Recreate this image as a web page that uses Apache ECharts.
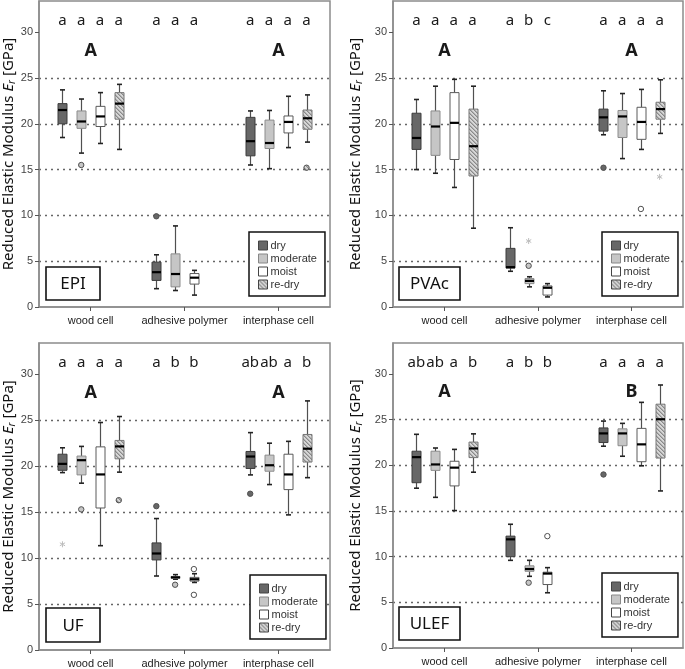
<!DOCTYPE html>
<html><head><meta charset="utf-8">
<script src="https://cdn.jsdelivr.net/npm/echarts@6/dist/echarts.min.js"></script>
<style>html,body{margin:0;padding:0;background:#fff}#c{width:685px;height:669px}</style>
</head><body><div id="c"></div>
<script>
const groups = ['wood cell', 'adhesive polymer', 'interphase cell'];
const conditions = ['dry', 'moderate', 'moist', 're-dry'];
const panelNames = ['EPI', 'PVAc', 'UF', 'ULEF'];
const yTicks = [0, 5, 10, 15, 20, 25, 30];

// box data: [group, min, Q1, median, Q3, max]
const epiDry = [[0,18.5,20.0,21.5,22.2,23.7],[1,2.0,2.9,3.8,4.9,5.7],[2,15.5,16.5,18.1,20.7,21.4]];
const epiModerate = [[0,16.8,19.5,20.25,21.4,22.7],[1,1.8,2.2,3.6,5.8,8.85],[2,15.1,17.3,17.9,20.4,21.45]];
const epiMoist = [[0,17.85,19.7,20.8,21.9,23.4],[1,1.3,2.5,3.2,3.65,4.0],[2,17.4,19.0,20.2,20.85,23.0]];
const epiRedry = [[0,17.2,20.5,22.2,23.4,24.3],[2,18.0,19.4,20.6,21.5,23.15]];

const pvacDry = [[0,15.0,17.2,18.45,21.15,22.65],[1,3.9,4.25,4.35,6.4,8.65],[2,18.8,19.2,20.7,21.6,23.6]];
const pvacModerate = [[0,14.6,16.55,19.7,21.4,24.1],[1,2.2,2.55,2.85,3.1,3.3],[2,16.2,18.5,20.8,21.45,23.3]];
const pvacMoist = [[0,13.05,16.1,20.1,23.4,24.85],[1,1.1,1.3,2.1,2.3,2.55],[2,17.2,18.3,20.2,21.8,23.75]];
const pvacRedry = [[0,8.6,14.3,17.55,21.6,24.1],[2,18.95,20.5,21.6,22.35,24.8]];

const ufDry = [[0,19.3,19.55,20.25,21.3,22.0],[1,8.05,9.8,10.5,11.65,14.3],[2,19.05,19.75,21.05,21.6,23.65]];
const ufModerate = [[0,18.15,19.05,20.65,21.1,22.15],[1,7.7,7.8,7.9,8.0,8.2],[2,18.0,19.45,20.1,21.2,22.5]];
const ufMoist = [[0,11.35,15.45,19.1,22.1,24.75],[1,7.35,7.5,7.7,7.9,8.3],[2,14.7,17.45,19.1,21.3,22.7]];
const ufRedry = [[0,19.35,20.8,22.15,22.8,25.4],[2,18.75,20.45,21.9,23.45,27.1]];

const ulefDry = [[0,17.5,18.1,20.9,21.55,23.4],[1,9.6,10.0,11.9,12.25,13.55],[2,22.1,22.5,23.5,24.1,24.85]];
const ulefModerate = [[0,16.5,19.45,20.1,21.55,21.9],[1,7.85,8.4,8.65,9.0,9.6],[2,21.0,22.15,23.5,24.0,24.6]];
const ulefMoist = [[0,15.05,17.75,19.75,20.45,21.75],[1,6.05,6.95,8.15,8.3,8.8],[2,19.95,20.4,22.3,24.05,26.9]];
const ulefRedry = [[0,19.25,20.85,21.85,22.55,23.45],[2,17.2,20.8,25.05,26.7,28.8]];

// outliers: [condition, group, value]; kinds: 'o' circle, '*' extreme
const epiOutliers = [[1,0,15.5],[0,1,9.9],[3,2,15.2]];
const epiOutlierKinds = ['o','o','o'];
const pvacOutliers = [[1,1,7.2],[1,1,4.5],[0,2,15.2],[2,2,10.7],[3,2,14.2]];
const pvacOutlierKinds = ['*','o','o','o','*'];
const ufOutliers = [[0,0,11.5],[1,0,15.3],[3,0,16.3],[0,1,15.65],[1,1,7.1],[2,1,8.8],[2,1,6.0],[0,2,17.0]];
const ufOutlierKinds = ['*','o','o','o','o','o','o','o'];
const ulefOutliers = [[1,1,7.15],[2,1,12.25],[0,2,19.0]];
const ulefOutlierKinds = ['o','o','o'];

// significance letters per group (one per condition) and group letters
const epiLetters = [['a','a','a','a'],['a','a','a'],['a','a','a','a']];
const pvacLetters = [['a','a','a','a'],['a','b','c'],['a','a','a','a']];
const ufLetters = [['a','a','a','a'],['a','b','b'],['ab','ab','a','b']];
const ulefLetters = [['ab','ab','a','b'],['a','b','b'],['a','a','a','a']];
const epiGroupLetters = ['A','','A'];
const pvacGroupLetters = ['A','','A'];
const ufGroupLetters = ['A','','A'];
const ulefGroupLetters = ['A','','B'];

const panelBoxes = [
  [epiDry, epiModerate, epiMoist, epiRedry],
  [pvacDry, pvacModerate, pvacMoist, pvacRedry],
  [ufDry, ufModerate, ufMoist, ufRedry],
  [ulefDry, ulefModerate, ulefMoist, ulefRedry]
];
const panelOutliers = [epiOutliers, pvacOutliers, ufOutliers, ulefOutliers];
const panelOutlierKinds = [epiOutlierKinds, pvacOutlierKinds, ufOutlierKinds, ulefOutlierKinds];
const panelLetters = [epiLetters, pvacLetters, ufLetters, ulefLetters];
const panelGroupLetters = [epiGroupLetters, pvacGroupLetters, ufGroupLetters, ulefGroupLetters];

// ---- styling / layout ----
function makeHatch() {
  const c = document.createElement('canvas');
  c.width = 4; c.height = 4;
  const ctx = c.getContext('2d');
  ctx.fillStyle = '#d6d6d6'; ctx.fillRect(0, 0, 4, 4);
  ctx.fillStyle = '#8a8a8a';
  for (let i = 0; i < 4; i++) ctx.fillRect(i, i, 1, 1);
  ctx.fillStyle = '#b0b0b0';
  for (let i = 0; i < 4; i++) ctx.fillRect((i + 1) % 4, i, 1, 1);
  return c;
}
const hatch = { image: makeHatch(), repeat: 'repeat' };
const fills = ['#676767', '#c6c6c6', '#ffffff', hatch];
const borders = ['#3c3c3c', '#8c8c8c', '#5a5a5a', '#777777'];
const slot = [-0.3, -0.1, 0.1, 0.3];
const LETTER_Y = 31.2, GROUP_LETTER_Y = 28.0;

const grids = [
  { left: 39, top: 1, width: 291, height: 306 },
  { left: 393, top: 1, width: 290, height: 306 },
  { left: 39, top: 343, width: 291, height: 307 },
  { left: 393, top: 343, width: 290, height: 305 }
];
const nameGaps = [22, 29, 22, 29];
const legendPos = [[249, 232], [602, 232], [250, 575], [602, 573]];
const labelBoxes = [[46, 267, 54, 33], [399, 267, 61, 33], [46, 608, 54, 34], [399, 607, 61, 33]];

function boxRenderer(c) {
  return function (params, api) {
    const x = api.value(0) + slot[c];
    const cx = Math.round(api.coord([x, 0])[0]) + 0.5;
    const py = v => api.coord([x, v])[1];
    const yMin = py(api.value(1)), yQ1 = py(api.value(2)), yMed = py(api.value(3)),
          yQ3 = py(api.value(4)), yMax = py(api.value(5));
    const w = 9;
    const cw = 5;
    const wl = { stroke: '#505050', lineWidth: 1.2 };
    const cap = { stroke: '#222', lineWidth: 1.6 };
    return { type: 'group', children: [
      { type: 'line', shape: { x1: cx, y1: yMax, x2: cx, y2: yQ3 }, style: wl },
      { type: 'line', shape: { x1: cx, y1: yQ1, x2: cx, y2: yMin }, style: wl },
      { type: 'line', shape: { x1: cx - cw / 2, y1: yMax, x2: cx + cw / 2, y2: yMax }, style: cap },
      { type: 'line', shape: { x1: cx - cw / 2, y1: yMin, x2: cx + cw / 2, y2: yMin }, style: cap },
      { type: 'rect', shape: { x: cx - w / 2, y: yQ3, width: w, height: Math.max(yQ1 - yQ3, 1) },
        style: { fill: fills[c], stroke: borders[c], lineWidth: 1 } },
      { type: 'line', shape: { x1: cx - w / 2, y1: yMed, x2: cx + w / 2, y2: yMed },
        style: { stroke: '#000', lineWidth: 2.2 } }
    ] };
  };
}

function outlierRenderer(p) {
  return function (params, api) {
    const c = api.value(0);
    const pt = api.coord([api.value(1) + slot[c], api.value(2)]);
    const kind = panelOutlierKinds[p][params.dataIndex];
    if (kind === '*') {
      const r = 3;
      const s = { stroke: '#bdbdbd', lineWidth: 1 };
      return { type: 'group', children: [
        { type: 'line', shape: { x1: pt[0], y1: pt[1] - r, x2: pt[0], y2: pt[1] + r }, style: s },
        { type: 'line', shape: { x1: pt[0] - r * 0.87, y1: pt[1] - r / 2, x2: pt[0] + r * 0.87, y2: pt[1] + r / 2 }, style: s },
        { type: 'line', shape: { x1: pt[0] - r * 0.87, y1: pt[1] + r / 2, x2: pt[0] + r * 0.87, y2: pt[1] - r / 2 }, style: s }
      ] };
    }
    return { type: 'circle', shape: { cx: pt[0], cy: pt[1], r: 2.7 },
      style: { fill: fills[c], stroke: '#505050', lineWidth: 1 } };
  };
}

function letterRenderer(p) {
  return function (params, api) {
    const g = api.value(0), c = api.value(1);
    const isGroup = c < 0;
    const text = isGroup ? panelGroupLetters[p][g] : panelLetters[p][g][c];
    const pt = api.coord([isGroup ? g : g + slot[c], isGroup ? GROUP_LETTER_Y : LETTER_Y]);
    return { type: 'text', x: pt[0], y: pt[1], style: {
      text: text, align: 'center', verticalAlign: 'middle',
      fontFamily: 'Noto Sans', fontSize: isGroup ? 18 : 15,
      fontWeight: isGroup ? 'bold' : 'normal', fill: '#1a1a1a' } };
  };
}

const option = {
  animation: false,
  backgroundColor: '#ffffff',
  grid: grids.map(g => Object.assign({ show: true, borderColor: '#8c8c8c', borderWidth: 1.5, backgroundColor: 'transparent' }, g)),
  xAxis: grids.map((g, i) => ({
    type: 'value', gridIndex: i, min: -0.55, max: 2.55,
    axisLine: { show: true, onZero: false, lineStyle: { color: '#8c8c8c', width: 1.5 } },
    axisTick: { show: true, customValues: [0, 1, 2], length: 4, lineStyle: { color: '#555' } },
    axisLabel: { customValues: [0, 1, 2], formatter: v => groups[Math.round(v)] || '',
      fontFamily: 'Liberation Sans', fontSize: 11, color: '#222', margin: 8 },
    splitLine: { show: false }
  })),
  yAxis: grids.map((g, i) => ({
    type: 'value', gridIndex: i, min: 0, max: 33.4, interval: 5,
    name: 'Reduced Elastic Modulus {it|E}{sub|r} [GPa]',
    nameLocation: 'middle', nameGap: nameGaps[i],
    nameTextStyle: { fontFamily: 'Noto Sans', fontSize: 15, color: '#111',
      rich: { it: { fontFamily: 'Noto Sans', fontSize: 15, fontStyle: 'italic', color: '#111' },
              sub: { fontFamily: 'Noto Sans', fontSize: 10, fontStyle: 'italic', color: '#111', padding: [6, 0, 0, 0] } } },
    axisLine: { show: true, onZero: false, lineStyle: { color: '#8c8c8c', width: 1.5 } },
    axisTick: { show: true, customValues: yTicks, length: 4, lineStyle: { color: '#555' } },
    axisLabel: { customValues: yTicks, formatter: v => (v % 5 === 0 ? String(v) : ''),
      fontFamily: 'Liberation Sans', fontSize: 11, color: '#444', margin: 6 },
    splitLine: { show: true, showMinLine: false, showMaxLine: false,
      lineStyle: { color: '#666', width: 1.3, type: [2, 4] } }
  })),
  legend: legendPos.map(pos => ({
    left: pos[0], top: pos[1], orient: 'vertical', selectedMode: false,
    itemWidth: 9, itemHeight: 9, itemGap: 0,
    padding: [7, 8, 5, 9], borderColor: '#111', borderWidth: 1.5, backgroundColor: '#fff',
    icon: 'rect',
    textStyle: { fontFamily: 'Liberation Sans', fontSize: 11, color: '#333', padding: [0, 0, 0, -2], lineHeight: 13 },
    data: conditions.map((n, c) => ({ name: n, icon: 'rect',
      itemStyle: { color: fills[c], borderColor: borders[c] === '#8c8c8c' ? '#888' : '#444', borderWidth: 1 } }))
  })),
  graphic: labelBoxes.flatMap((b, i) => [
    { type: 'rect', shape: { x: b[0], y: b[1], width: b[2], height: b[3] },
      style: { fill: '#fff', stroke: '#111', lineWidth: 1.6 }, z: 10 },
    { type: 'text', x: b[0] + b[2] / 2, y: b[1] + b[3] / 2 + 1,
      style: { text: panelNames[i], align: 'center', verticalAlign: 'middle',
        fontFamily: 'Noto Sans', fontSize: 17, fill: '#111' }, z: 11 }
  ]),
  series: []
};

panelBoxes.forEach((boxes, p) => {
  boxes.forEach((data, c) => {
    option.series.push({
      type: 'custom', name: conditions[c], xAxisIndex: p, yAxisIndex: p,
      itemStyle: { color: fills[c] },
      renderItem: boxRenderer(c), data: data, clip: false, silent: true
    });
  });
  option.series.push({
    type: 'custom', name: 'outliers-' + p, xAxisIndex: p, yAxisIndex: p,
    renderItem: outlierRenderer(p), data: panelOutliers[p], silent: true,
    encode: { x: 1, y: 2 }
  });
  const letterData = [];
  panelLetters[p].forEach((arr, g) => arr.forEach((l, c) => letterData.push([g, c])));
  panelGroupLetters[p].forEach((l, g) => { if (l) letterData.push([g, -1]); });
  option.series.push({
    type: 'custom', name: 'letters-' + p, xAxisIndex: p, yAxisIndex: p,
    renderItem: letterRenderer(p), data: letterData, silent: true, clip: false,
    encode: { x: 0, y: 1 }
  });
});

const chart = echarts.init(document.getElementById('c'), null, { renderer: 'canvas' });
chart.setOption(option);
</script></body></html>
